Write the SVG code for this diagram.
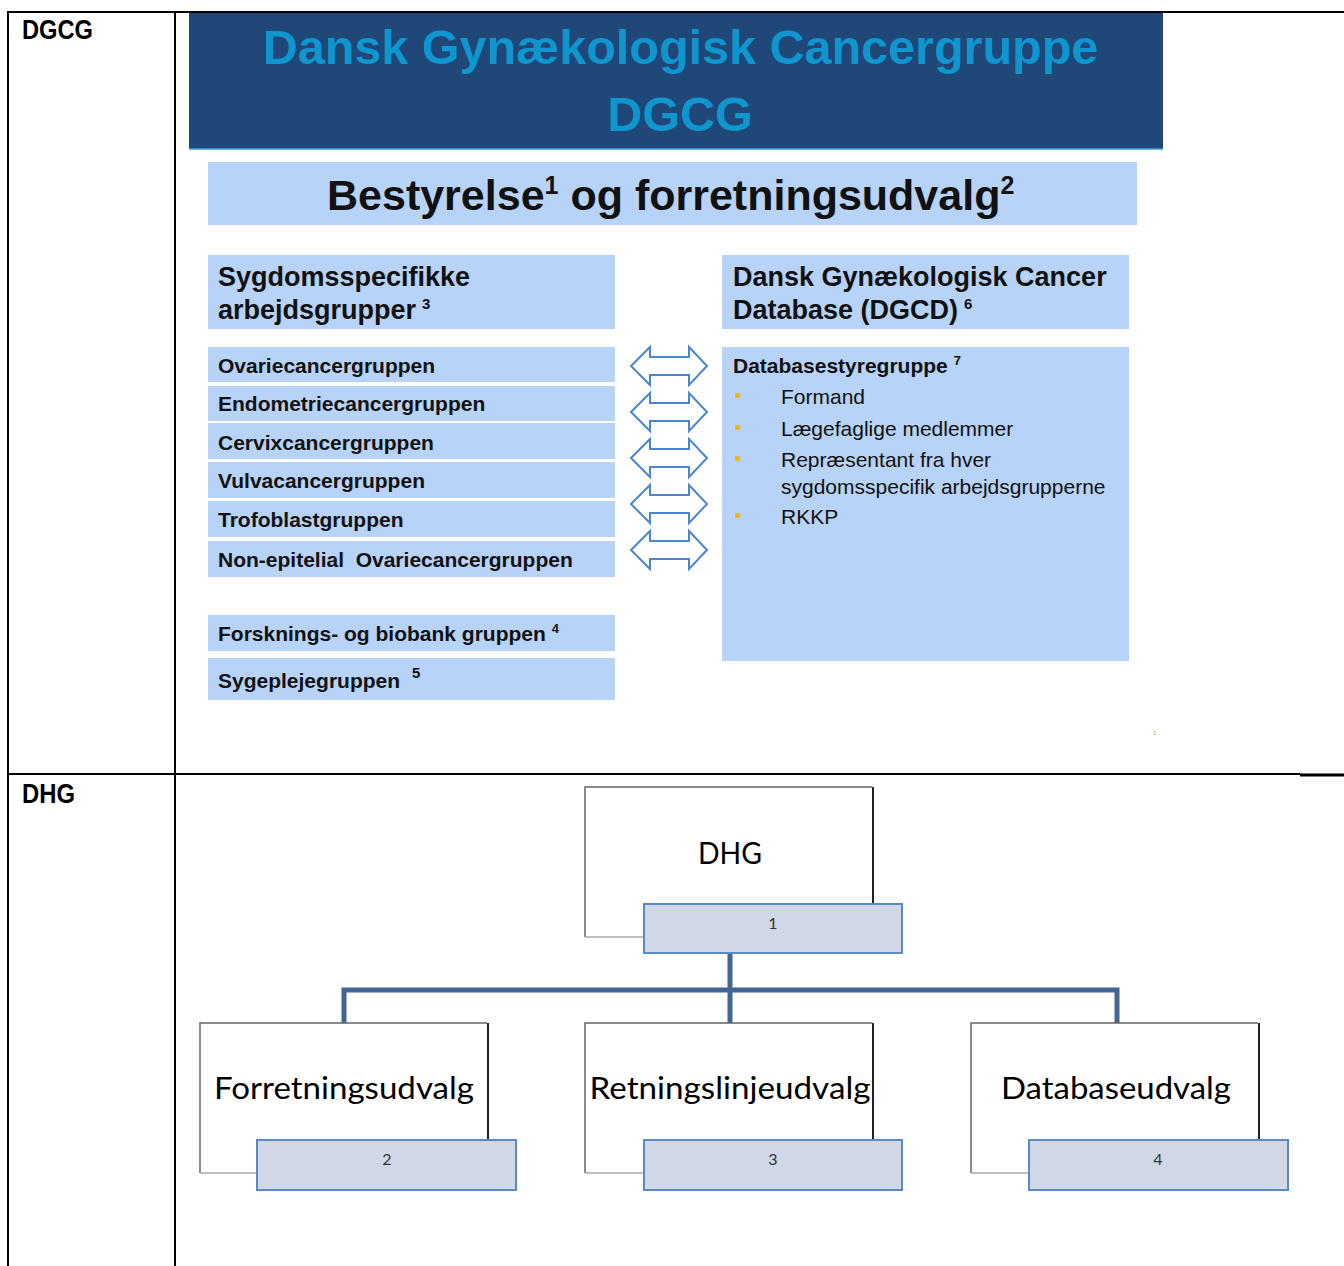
<svg xmlns="http://www.w3.org/2000/svg" xmlns:xlink="http://www.w3.org/1999/xlink" width="1344" height="1266" viewBox="0 0 1344 1266">
<style>
.grid{stroke:#000;stroke-width:2;fill:none}
.lbl{font-family:"Liberation Sans",Arial,sans-serif;font-weight:bold;fill:#000}
.hdr{font-family:"Liberation Sans",Arial,sans-serif;font-weight:bold;fill:#0f96cf;font-size:48.5px}
.lb{fill:#b7d3f7}
.bt{font-family:"Liberation Sans",Arial,sans-serif;font-weight:bold;fill:#111}
.rt{font-family:"Liberation Sans",Arial,sans-serif;fill:#111;font-size:21px}
.bul{fill:#f5b800}
.arw{fill:#fff;stroke:#4a86d2;stroke-width:2;stroke-linejoin:miter}
.obox{fill:#fff}
.otop{stroke:#666;stroke-width:1.5;fill:none}
.oright{stroke:#222;stroke-width:2;fill:none}
.obot{stroke:#aaa;stroke-width:1.5;fill:none}
.nbox{fill:#d0d8e7;stroke:#5a8ac6;stroke-width:2}
.ntx{font-family:Lato,"Open Sans",sans-serif;font-size:30px;fill:#000}
.num{font-family:Lato,"Open Sans",sans-serif;font-size:16px;fill:#333}
.conn{stroke:#426592;stroke-width:5;fill:none}
</style>
<defs>
<path id="darr" d="M631,0 L650,-19 L650,-9 L689,-9 L689,-19 L707,0 L689,19 L689,9 L650,9 L650,19 Z"/>
</defs>
<rect width="1344" height="1266" fill="#fff"/>

<g id="table">
<line class="grid" x1="8" y1="12" x2="1344" y2="12"/>
<line class="grid" x1="8" y1="11" x2="8" y2="1266"/>
<line class="grid" x1="175" y1="11" x2="175" y2="1266"/>
<line class="grid" x1="7" y1="774" x2="1300" y2="774"/>
<line x1="1300" y1="775" x2="1344" y2="775" stroke="#000" stroke-width="3"/>
<text class="lbl" x="22" y="39" font-size="27" textLength="71" lengthAdjust="spacingAndGlyphs">DGCG</text>
<text class="lbl" x="22" y="803" font-size="27" textLength="53" lengthAdjust="spacingAndGlyphs">DHG</text>
</g>

<g id="header">
<rect x="189" y="13" width="974" height="136" fill="#1f4778"/>
<line x1="189" y1="149" x2="1163" y2="149" stroke="#3ba0d2" stroke-width="1.5"/>
<text class="hdr" x="680.5" y="64" text-anchor="middle">Dansk Gynækologisk Cancergruppe</text>
<text class="hdr" x="680" y="131" text-anchor="middle">DGCG</text>
</g>

<g id="bestyrelse">
<rect class="lb" x="208" y="162" width="929" height="63"/>
<text class="bt" x="327" y="210" font-size="43">Bestyrelse<tspan font-size="25" dy="-16">1</tspan><tspan dy="16"> og forretningsudvalg</tspan><tspan font-size="25" dy="-16">2</tspan></text>
</g>

<g id="sygdomsspecifikke">
<rect class="lb" x="208" y="255" width="407" height="74"/>
<text class="bt" x="218" y="286" font-size="27">Sygdomsspecifikke</text>
<text class="bt" x="218" y="319" font-size="27">arbejdsgrupper<tspan font-size="15" dx="6" dy="-10">3</tspan></text>
</g>

<g id="dgcd">
<rect class="lb" x="722" y="255" width="407" height="74"/>
<text class="bt" x="733" y="286" font-size="27">Dansk Gynækologisk Cancer</text>
<text class="bt" x="733" y="319" font-size="27">Database (DGCD)<tspan font-size="15" dx="6" dy="-10">6</tspan></text>
</g>

<g id="ovarie"><rect class="lb" x="208" y="347" width="407" height="35"/><text class="bt" x="218" y="373" font-size="21">Ovariecancergruppen</text></g>
<g id="endometrie"><rect class="lb" x="208" y="386" width="407" height="35"/><text class="bt" x="218" y="411" font-size="21">Endometriecancergruppen</text></g>
<g id="cervix"><rect class="lb" x="208" y="423" width="407" height="36"/><text class="bt" x="218" y="450" font-size="21">Cervixcancergruppen</text></g>
<g id="vulva"><rect class="lb" x="208" y="462" width="407" height="36"/><text class="bt" x="218" y="488" font-size="21">Vulvacancergruppen</text></g>
<g id="trofoblast"><rect class="lb" x="208" y="501" width="407" height="36"/><text class="bt" x="218" y="527" font-size="21">Trofoblastgruppen</text></g>
<g id="nonepitelial"><rect class="lb" x="208" y="541" width="407" height="36"/><text class="bt" x="218" y="567" font-size="21" xml:space="preserve">Non-epitelial  Ovariecancergruppen</text></g>

<g id="forskning"><rect class="lb" x="208" y="615" width="407" height="36"/><text class="bt" x="218" y="641" font-size="21">Forsknings- og biobank gruppen<tspan font-size="13" dx="6" dy="-8">4</tspan></text></g>
<g id="sygepleje"><rect class="lb" x="208" y="658" width="407" height="42"/><text class="bt" x="218" y="688" font-size="21">Sygeplejegruppen<tspan font-size="15" dx="12" dy="-10">5</tspan></text></g>

<g id="databasestyregruppe">
<rect class="lb" x="722" y="347" width="407" height="314"/>
<text class="bt" x="733" y="373" font-size="21">Databasestyregruppe<tspan font-size="13" dx="6" dy="-8">7</tspan></text>
<rect class="bul" x="735" y="393" width="5" height="5"/>
<text class="rt" x="781" y="404">Formand</text>
<rect class="bul" x="735" y="425" width="5" height="5"/>
<text class="rt" x="781" y="436">Lægefaglige medlemmer</text>
<rect class="bul" x="735" y="456" width="5" height="5"/>
<text class="rt" x="781" y="467">Repræsentant fra hver</text>
<text class="rt" x="781" y="494">sygdomsspecifik arbejdsgrupperne</text>
<rect class="bul" x="735" y="513" width="5" height="5"/>
<text class="rt" x="781" y="524">RKKP</text>
</g>

<text x="1153" y="735" font-family="Liberation Sans,Arial,sans-serif" font-size="6" fill="#c9a46a">1</text>

<g id="connectors">
<use xlink:href="#darr" class="arw" transform="translate(0,366)"/>
<use xlink:href="#darr" class="arw" transform="translate(0,412)"/>
<use xlink:href="#darr" class="arw" transform="translate(0,458)"/>
<use xlink:href="#darr" class="arw" transform="translate(0,504)"/>
<use xlink:href="#darr" class="arw" transform="translate(0,550)"/>
<path class="conn" d="M730,954 V1023 M344,1023 V990 H1117 V1023"/>
</g>

<g id="dhg">
<rect class="obox" x="585" y="787" width="288" height="150"/>
<path class="otop" d="M585,937 V787 H872"/>
<path class="oright" d="M873,787 V904"/>
<path class="obot" d="M585,937 H644"/>
<text class="ntx" x="730" y="864" text-anchor="middle" textLength="64" lengthAdjust="spacingAndGlyphs">DHG</text>
<rect class="nbox" x="644" y="904" width="258" height="49"/>
<text class="num" x="773" y="929" text-anchor="middle">1</text>
</g>

<g id="forretningsudvalg">
<rect class="obox" x="200" y="1023" width="288" height="150"/>
<path class="otop" d="M200,1173 V1023 H487"/>
<path class="oright" d="M488,1023 V1140"/>
<path class="obot" d="M200,1173 H257"/>
<text class="ntx" x="344" y="1099" text-anchor="middle" textLength="260" lengthAdjust="spacingAndGlyphs">Forretningsudvalg</text>
<rect class="nbox" x="257" y="1140" width="259" height="50"/>
<text class="num" x="387" y="1165" text-anchor="middle">2</text>
</g>

<g id="retningslinjeudvalg">
<rect class="obox" x="585" y="1023" width="288" height="150"/>
<path class="otop" d="M585,1173 V1023 H872"/>
<path class="oright" d="M873,1023 V1140"/>
<path class="obot" d="M585,1173 H644"/>
<text class="ntx" x="730" y="1099" text-anchor="middle" textLength="281" lengthAdjust="spacingAndGlyphs">Retningslinjeudvalg</text>
<rect class="nbox" x="644" y="1140" width="258" height="50"/>
<text class="num" x="773" y="1165" text-anchor="middle">3</text>
</g>

<g id="databaseudvalg">
<rect class="obox" x="971" y="1023" width="288" height="150"/>
<path class="otop" d="M971,1173 V1023 H1258"/>
<path class="oright" d="M1259,1023 V1140"/>
<path class="obot" d="M971,1173 H1029"/>
<text class="ntx" x="1116" y="1099" text-anchor="middle" textLength="230" lengthAdjust="spacingAndGlyphs">Databaseudvalg</text>
<rect class="nbox" x="1029" y="1140" width="259" height="50"/>
<text class="num" x="1158" y="1165" text-anchor="middle">4</text>
</g>
</svg>
